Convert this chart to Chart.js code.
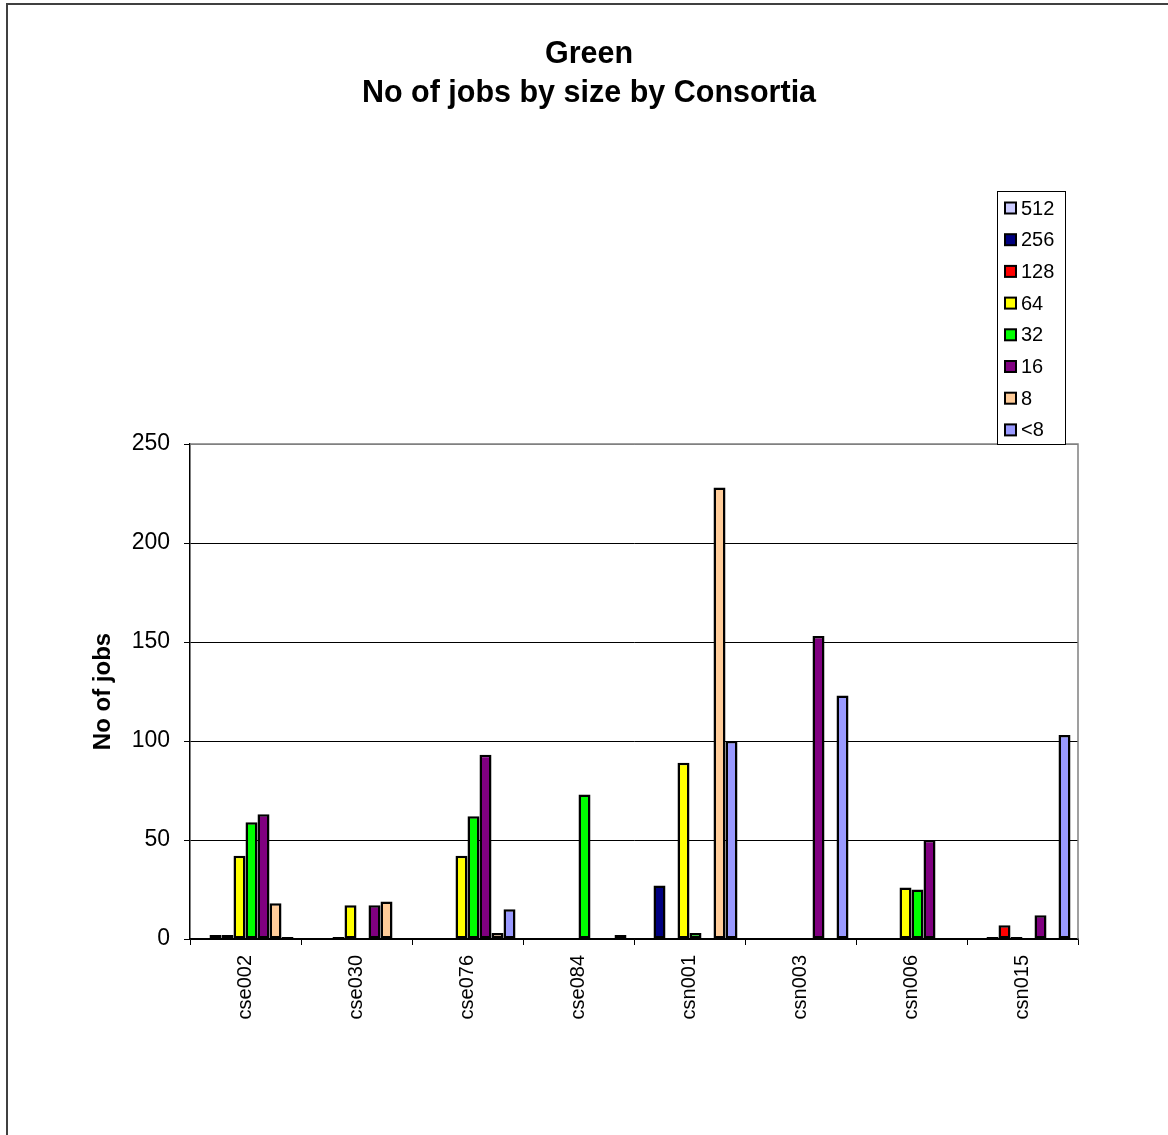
<!DOCTYPE html>
<html>
<head>
<meta charset="utf-8">
<script src="https://cdn.jsdelivr.net/npm/chart.js@4/dist/chart.umd.min.js"></script>
<style>
html,body{margin:0;padding:0;background:#fff;}
canvas{display:block;}
</style>
</head>
<body>
<canvas id="c" width="1168" height="1135"></canvas>
<script>
const categories = ['cse002','cse030','cse076','cse084','csn001','csn003','csn006','csn015'];
const seriesNames = ['512','256','128','64','32','16','8','<8'];
const s512 = [0,0,0,0,0,0,0,0];
const s256 = [2,0,0,0,27,0,0,1];
const s128 = [2,1,0,0,0,0,0,7];
const s64  = [42,17,42,0,89,0,26,1];
const s32  = [59,0,62,73,3,0,25,0];
const s16  = [63,17,93,0,0,153,50,12];
const s8   = [18,19,3,0,228,0,0,0];
const sLt8 = [1,0,15,2,100,123,0,103];
const yTicks = [0,50,100,150,200,250];
const colors = ['#CCCCFF','#000080','#FF0000','#FFFF00','#00FF00','#800080','#FFCC99','#9999FF'];
const seriesValues = [s512,s256,s128,s64,s32,s16,s8,sLt8];
const titleLines = ['Green','No of jobs by size by Consortia'];
const yTitle = 'No of jobs';
const FONT = '"Liberation Sans", Arial, sans-serif';

const datasets = seriesNames.map((n,i)=>({
  label:n, data:seriesValues[i], backgroundColor:colors[i],
  borderColor:'#000', borderWidth:2.5, borderSkipped:false,
  categoryPercentage:0.865, barPercentage:1.0
}));

const decor = {
  id:'decor',
  afterDraw(chart){
    const ctx = chart.ctx;
    const a = chart.chartArea;
    ctx.save();
    ctx.strokeStyle = '#808080'; ctx.lineWidth = 1.5;
    ctx.beginPath();
    ctx.moveTo(a.left, a.top); ctx.lineTo(a.right, a.top); ctx.lineTo(a.right, a.bottom);
    ctx.stroke();
    ctx.strokeStyle = '#404040'; ctx.lineWidth = 2;
    ctx.beginPath();
    ctx.moveTo(7, 1135); ctx.lineTo(7, 4); ctx.lineTo(1168, 4);
    ctx.stroke();
    ctx.fillStyle = '#000';
    ctx.textAlign = 'center'; ctx.textBaseline = 'alphabetic';
    ctx.font = 'bold 30.5px ' + FONT;
    ctx.fillText(titleLines[0], 589, 63);
    ctx.fillText(titleLines[1], 589, 102);
    ctx.save();
    ctx.translate(103, (a.top + a.bottom) / 2);
    ctx.rotate(-Math.PI/2);
    ctx.font = 'bold 24px ' + FONT;
    ctx.textBaseline = 'middle';
    ctx.fillText(yTitle, 0, 0);
    ctx.restore();
    const lx = 997, ly = 191, lw = 68, lh = 253;
    ctx.fillStyle = '#fff';
    ctx.fillRect(lx, ly, lw, lh);
    ctx.strokeStyle = '#000'; ctx.lineWidth = 1;
    ctx.strokeRect(lx + 0.5, ly + 0.5, lw, lh);
    ctx.font = '20px ' + FONT;
    ctx.textAlign = 'left'; ctx.textBaseline = 'middle';
    seriesNames.forEach((n,i)=>{
      const cy = 208 + i * 31.7;
      ctx.fillStyle = colors[i];
      ctx.fillRect(1005, cy - 5.5, 11, 11);
      ctx.strokeStyle = '#000'; ctx.lineWidth = 2;
      ctx.strokeRect(1005, cy - 5.5, 11, 11);
      ctx.fillStyle = '#000';
      ctx.fillText(n, 1021, cy + 1);
    });
    ctx.restore();
  }
};

new Chart(document.getElementById('c'), {
  type:'bar',
  data:{ labels:categories, datasets },
  options:{
    responsive:false, animation:false, devicePixelRatio:1,
    layout:{ padding:{ top:444, right:90, left:0, bottom:0 } },
    plugins:{ legend:{display:false}, title:{display:false}, tooltip:{enabled:false} },
    scales:{
      x:{
        afterFit(s){ s.height = 196; },
        grid:{ display:true, offset:true, drawOnChartArea:false, drawTicks:true, tickLength:6, color:'#000', lineWidth:1 },
        border:{ display:true, color:'#000', width:1.5 },
        ticks:{ minRotation:90, maxRotation:90, autoSkip:false, padding:10, color:'#000', font:{ family:FONT, size:20 } }
      },
      y:{
        min:0, max:250,
        afterFit(s){ s.width = 190; },
        afterBuildTicks(s){ s.ticks = yTicks.map(v=>({value:v})); },
        grid:{ color:(c)=> (c.tick && c.tick.value===250) ? '#808080' : '#000', tickColor:'#000', lineWidth:1, tickLength:6 },
        border:{ display:true, color:'#000', width:1.5 },
        ticks:{ padding:14, color:'#000', font:{ family:FONT, size:23 } }
      }
    }
  },
  plugins:[decor]
});
</script>
</body>
</html>
